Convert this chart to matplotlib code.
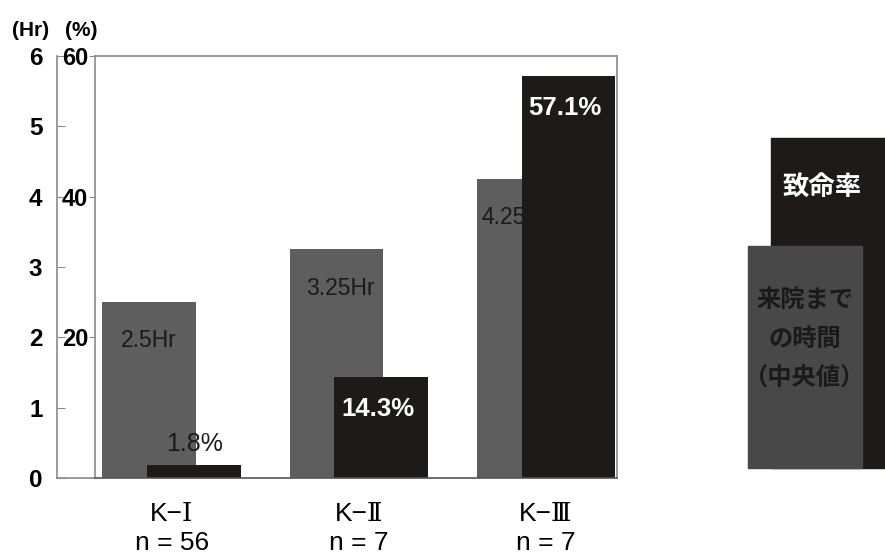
import matplotlib.pyplot as plt
from matplotlib.patches import Rectangle
import numpy as np

# data
groups = ['K−Ⅰ\nn = 56', 'K−Ⅱ\nn = 7', 'K−Ⅲ\nn = 7']
hours = [2.5, 3.25, 4.25]          # time to hospital (median)
fatality = [1.8, 14.3, 57.1]       # fatality rate (%)
hour_labels = ['2.5Hr', '3.25Hr', '4.25Hr']
rate_labels = ['1.8%', '14.3%', '57.1%']
hour_label_nudge = [0.0, 0.02, -0.04]

gray = '#5e5e5e'
dark = '#1d1a17'
spine_col = '#8a8a8a'
sans = ['Liberation Sans', 'DejaVu Sans']
jp = ['Noto Sans CJK JP', 'DejaVu Sans']

W, H = 885, 555
fig = plt.figure(figsize=(W / 100, H / 100), dpi=100)
left, right, top, bottom = 95, 617, 56, 478
ax = fig.add_axes([left / W, 1 - bottom / H, (right - left) / W, (bottom - top) / H])
ax_hr = ax.twinx()

x = np.arange(len(groups))
off, width = 0.12, 0.50

# gray bars (hours) go underneath, dark bars (%) on top
ax.set_zorder(ax_hr.get_zorder() + 1)
ax.patch.set_visible(False)

ax_hr.bar(x - off, hours, width, color=gray)
for xi, v, lab, nd in zip(x, hours, hour_labels, hour_label_nudge):
    ax_hr.text(xi - off + nd, v - 0.55, lab, ha='center', va='center',
               fontsize=16.5, color='#1a1a1a', family=sans)

ax.bar(x + off, fatality, width, color=dark)
for xi, v, lab in zip(x, fatality, rate_labels):
    if v < 5:
        ax.text(xi + off, v + 3, lab, ha='center', va='center',
                fontsize=18, color='#1a1a1a', family=sans)
    else:
        ax.text(xi + off - 0.02, v - 4.5, lab, ha='center', va='center',
                fontsize=18.5, color='white', fontweight='bold', family=sans)

ax.set_xlim(-0.41, 2.38)
ax.set_ylim(0, 60)
ax_hr.set_ylim(0, 6)

# percent axis
ax.set_yticks([20, 40, 60])
ax.tick_params(axis='y', direction='out', length=4, color=spine_col,
               labelsize=17, pad=1)
for t in ax.get_yticklabels():
    t.set_fontweight('bold')
    t.set_family(sans)
for s in ax.spines.values():
    s.set_color(spine_col)
    s.set_linewidth(1.2)
ax.spines['bottom'].set_color('#555555')

# hour axis, 38 px to the left of the percent axis
gap = 38
ax_hr.yaxis.set_ticks_position('left')
ax_hr.yaxis.set_label_position('left')
ax_hr.spines['left'].set_position(('outward', gap * 72 / 100))
for k in ['top', 'right', 'bottom']:
    ax_hr.spines[k].set_visible(False)
ax_hr.spines['left'].set_color(spine_col)
ax_hr.spines['left'].set_linewidth(1.2)
ax_hr.set_yticks(range(0, 7))
ax_hr.tick_params(axis='y', direction='in', length=5.5, color=spine_col,
                  labelsize=17.5, pad=10.5)
for t in ax_hr.get_yticklabels():
    t.set_fontweight('bold')
    t.set_family(sans)
ax_hr.plot([-gap / (right - left), 0], [0, 0], transform=ax_hr.transAxes,
           color=spine_col, lw=1.2, clip_on=False)

ax.set_xticks(x)
ax.set_xticklabels(groups, fontsize=19, linespacing=1.28,
                   family=['Liberation Sans', 'DejaVu Serif', 'Noto Sans CJK JP'])
ax.tick_params(axis='x', length=0, pad=17)

fig.text(12 / W, 1 - 30 / H, '(Hr)', fontsize=15, fontweight='bold',
         family=sans, va='center', ha='left')
fig.text(65 / W, 1 - 30 / H, '(%)', fontsize=15, fontweight='bold',
         family=sans, va='center', ha='left')

# legend drawn as overlapping blocks
fig.patches.append(Rectangle((771 / W, 1 - 468 / H), 130 / W, 330 / H,
                             transform=fig.transFigure, color=dark))
fig.patches.append(Rectangle((748 / W, 1 - 468 / H), 114 / W, 222 / H,
                             transform=fig.transFigure, color='#484848'))
fig.text(822 / W, 1 - 187 / H, '致命率', fontsize=19, color='white',
         fontweight='bold', family=jp, ha='center', va='center')
fig.text(805 / W, 1 - 339 / H, '来院まで\nの時間\n（中央値）', fontsize=17.5,
         color='#1a1a1a', fontweight='bold', family=jp, ha='center',
         va='center', linespacing=1.75)

fig.savefig('out.png', dpi=100)
